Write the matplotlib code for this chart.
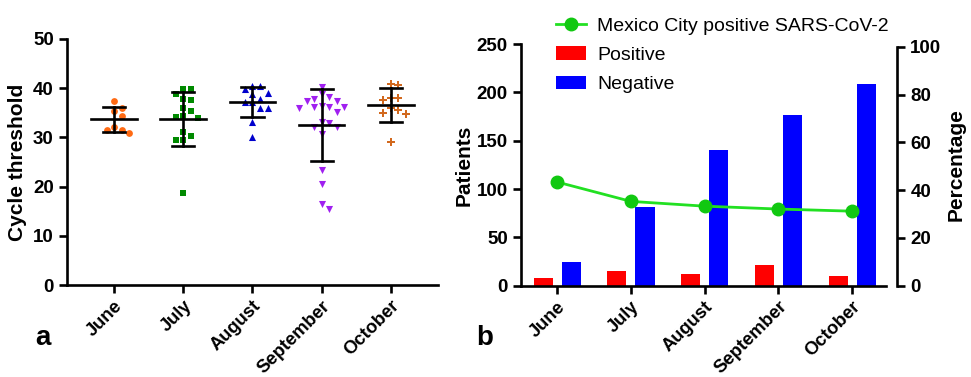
import numpy as np
import matplotlib
matplotlib.use('Agg')
import matplotlib.pyplot as plt

plt.rcParams['font.family'] = ['Liberation Sans', 'DejaVu Sans']
plt.rcParams['font.weight'] = 'bold'

months = ['June', 'July', 'August', 'September', 'October']

# panel a: cycle threshold per sample
ct_june = [37.4, 36.0, 35.4, 34.3, 32.2, 31.6, 31.5, 30.8]
ct_july = [39.8, 39.8, 38.8, 37.8, 37.6, 36.0, 35.3, 34.1, 33.9, 34.3,
           31.1, 29.5, 29.5, 30.3, 18.8]
ct_august = [40.5, 40.5, 39.8, 38.8, 39.1, 37.9, 37.1, 37.1, 35.9, 36.0,
             33.1, 30.1]
ct_september = [40.3, 38.8, 37.9, 37.4, 37.4, 38.3, 36.4, 36.2, 36.0, 35.2,
                36.2, 36.2, 32.9, 32.1, 32.1, 33.2, 30.6, 23.4, 20.5, 16.5, 15.5]
ct_october = [40.85, 40.6, 38.1, 37.6, 38.1, 35.9, 35.0, 34.8, 35.6, 29.0]

# panel b: patients and percentage
positive = [8, 15, 12, 21, 10]
negative = [25, 81, 140, 177, 209]
cdmx_pct = [43.4, 35.3, 33.3, 32.1, 31.2]

groups = [ct_june, ct_july, ct_august, ct_september, ct_october]
markers = ['o', 's', '^', 'v', 'P']
msizes = [24, 22, 26, 26, 36]
colors = ['#FF6A13', '#008A00', '#0000CC', '#A020F0', '#D2691E']


def swarm(vals, px_x=69.0, px_y=4.92, gap=7.0):
    # simple beeswarm offsets, in category units
    placed = []
    offs = np.zeros(len(vals))
    order = np.argsort(vals)[::-1]
    step = 7.5 / px_x
    for i in order:
        y = vals[i]
        for k in [0, 1, -1, 2, -2, 3, -3, 4, -4]:
            dx = k * step
            ok = True
            for (px, py) in placed:
                if np.hypot((px - dx) * px_x, (py - y) * px_y) < gap:
                    ok = False
                    break
            if ok:
                break
        offs[i] = dx
        placed.append((dx, y))
    return offs


def main():
    fig = plt.figure(figsize=(9.71, 3.77), dpi=100)
    lw = 1.9

    # ---- panel a ----
    ax = fig.add_axes([0.069, 0.244, 0.382, 0.6526])
    for i, vals in enumerate(groups):
        v = np.array(vals)
        xs = i + swarm(v)
        ax.scatter(xs, v, marker=markers[i], color=colors[i], s=msizes[i],
                   linewidths=0, zorder=3)
        m = v.mean()
        sd = v.std(ddof=1)
        ax.plot([i - 0.33, i + 0.33], [m, m], color='black', lw=lw, zorder=4)
        ax.plot([i, i], [m - sd, m + sd], color='black', lw=lw, zorder=4)
        for yy in (m - sd, m + sd):
            ax.plot([i - 0.16, i + 0.16], [yy, yy], color='black', lw=lw, zorder=4)
    ax.set_xlim(-0.68, 4.68)
    ax.set_ylim(0, 50)
    ax.set_yticks([0, 10, 20, 30, 40, 50])
    ax.set_xticks(range(5))
    ax.set_xticklabels(months, rotation=45, ha='right', rotation_mode='anchor',
                       fontsize=13.2)
    ax.set_ylabel('Cycle threshold', fontsize=15, fontweight='bold', labelpad=4)
    for s in ['top', 'right']:
        ax.spines[s].set_visible(False)
    for s in ['left', 'bottom']:
        ax.spines[s].set_linewidth(lw)
    ax.tick_params(width=lw, length=6)
    ax.tick_params(axis='x', pad=3)
    ax.tick_params(axis='y', labelsize=13.5)
    fig.text(0.036, 0.085, 'a', fontsize=20, fontweight='bold')

    # ---- panel b ----
    bx = fig.add_axes([0.5366, 0.242, 0.3759, 0.641])
    x = np.arange(len(months))
    bx.bar(x - 0.19, positive, width=0.26, color='#FF0000', label='Positive', zorder=2)
    bx.bar(x + 0.19, negative, width=0.26, color='#0000FF', label='Negative', zorder=2)
    bx.set_xlim(-0.49, 4.46)
    bx.set_ylim(0, 250)
    bx.set_yticks([0, 50, 100, 150, 200, 250])
    bx.set_xticks(x)
    bx.set_xticklabels(months, rotation=45, ha='right', rotation_mode='anchor',
                       fontsize=13.2)
    bx.set_ylabel('Patients', fontsize=15, fontweight='bold', labelpad=2)
    for s in ['top', 'right']:
        bx.spines[s].set_visible(False)
    for s in ['left', 'bottom']:
        bx.spines[s].set_linewidth(lw)
    bx.tick_params(width=lw, length=6)
    bx.tick_params(axis='x', pad=3)
    bx.tick_params(axis='y', labelsize=13.5)

    b2 = bx.twinx()
    line, = b2.plot(x, cdmx_pct, color='#22E022', lw=2, marker='o',
                    markersize=9, markerfacecolor='#11C811',
                    markeredgecolor='#11C811', label='Mexico City positive SARS-CoV-2',
                    zorder=3)
    b2.set_ylim(0, 101.1)
    b2.set_yticks([0, 20, 40, 60, 80, 100])
    for s in ['top', 'left', 'bottom']:
        b2.spines[s].set_visible(False)
    b2.spines['right'].set_position(('outward', 8))
    b2.spines['right'].set_bounds(0, 100)
    b2.spines['right'].set_linewidth(lw)
    b2.tick_params(width=lw, length=6, labelsize=13.5)
    b2.set_ylabel('Percentage', fontsize=15, fontweight='bold', labelpad=4)

    handles = [line] + bx.get_legend_handles_labels()[0]
    labels = ['Mexico City positive SARS-CoV-2', 'Positive', 'Negative']
    fig.legend(handles, labels, loc='upper left', bbox_to_anchor=(0.565, 0.975),
               frameon=False, prop={'size': 14, 'weight': 'normal'},
               handlelength=1.5, handletextpad=0.6, labelspacing=0.6,
               borderaxespad=0)
    fig.text(0.49, 0.085, 'b', fontsize=20, fontweight='bold')

    fig.savefig('out.png', dpi=100)
    plt.close()


if __name__ == '__main__':
    main()
